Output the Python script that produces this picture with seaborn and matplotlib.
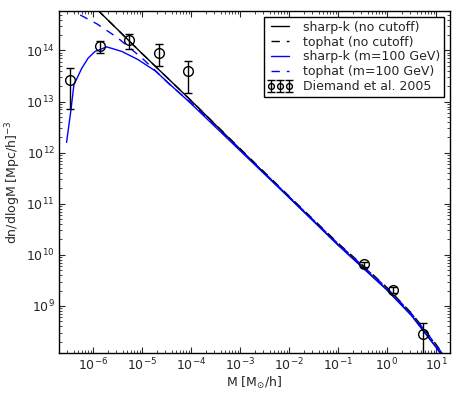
import numpy as np
import pandas as pd
import matplotlib
matplotlib.use("Agg")
import matplotlib.pyplot as plt
import seaborn as sns

# ---- data (log10 values) ----
logM_nocut = [-6.54, -6.0, -5.0, -4.0, -3.0, -2.0, -1.0, -0.5, 0.0, 0.5, 1.0, 1.3]
logN_sharp_nocut = [15.40, 14.88, 13.94, 13.02, 12.07, 11.13, 10.20, 9.76, 9.32, 8.82, 8.20, 7.80]
logN_tophat_nocut = [15.40, 14.88, 13.94, 13.02, 12.08, 11.15, 10.23, 9.80, 9.36, 8.86, 8.25, 7.85]

logM_sharp_cut = [-6.54, -6.45, -6.39, -6.23, -6.10, -5.96, -5.72, -5.41, -5.08, -4.73, -4.40,
                  -4.0, -3.5, -3.0, -2.0, -1.0, -0.5, 0.0, 0.5, 1.0, 1.3]
logN_sharp_cut = [12.20, 12.84, 13.33, 13.65, 13.85, 13.98, 14.07, 13.98, 13.82, 13.60, 13.31,
                  12.96, 12.50, 12.04, 11.12, 10.19, 9.75, 9.31, 8.81, 8.19, 7.79]

logM_tophat_cut = [-6.54, -6.37, -5.92, -5.5, -5.0, -4.7, -4.4, -4.0, -3.5, -3.0, -2.0,
                   -1.0, -0.5, 0.0, 0.5, 1.0, 1.3]
logN_tophat_cut = [14.83, 14.75, 14.52, 14.25, 13.85, 13.58, 13.30, 12.98, 12.52, 12.06, 11.14,
                   10.22, 9.79, 9.35, 8.85, 8.24, 7.84]

diemand_M = [3.4e-7, 1.37e-6, 5.5e-6, 2.2e-5, 8.7e-5, 0.34, 1.35, 5.5]
diemand_N = [2.6e13, 1.2e14, 1.57e14, 9.1e13, 3.9e13, 6.6e9, 2.05e9, 2.8e8]
diemand_err = [1.9e13, 3.0e13, 5.0e13, 4.2e13, 2.4e13, 0.8e9, 0.25e9, 1.9e8]

x_major = [1e-6, 1e-5, 1e-4, 1e-3, 1e-2, 1e-1, 1e0, 1e1]
y_major = [1e9, 1e10, 1e11, 1e12, 1e13, 1e14]

labels = ["sharp-k (no cutoff)", "tophat (no cutoff)", "sharp-k (m=100 GeV)",
          "tophat (m=100 GeV)", "Diemand et al. 2005"]

# ---- plotting ----
sns.set_style("ticks")
plt.rcParams["font.family"] = ["DejaVu Sans"]
plt.rcParams["font.size"] = 9
plt.rcParams["mathtext.default"] = "regular"
plt.rcParams["axes.unicode_minus"] = False

fig = plt.figure(figsize=(4.63, 3.96), dpi=100)
ax = fig.add_axes([0.1274, 0.1086, 0.8445, 0.8644])

def df(lm, ln):
    return pd.DataFrame({"M": np.power(10.0, lm), "N": np.power(10.0, ln)})

d1 = df(logM_nocut, logN_sharp_nocut)
d2 = df(logM_nocut, logN_tophat_nocut)
d3 = df(logM_sharp_cut, logN_sharp_cut)
d4 = df(logM_tophat_cut, logN_tophat_cut)

sns.lineplot(data=d1, x="M", y="N", ax=ax, color="k", lw=1.0, label=labels[0], sort=False)
sns.lineplot(data=d2, x="M", y="N", ax=ax, color="k", lw=1.0, label=labels[1], sort=False)
sns.lineplot(data=d3, x="M", y="N", ax=ax, color="#0000ff", lw=1.0, label=labels[2], sort=False)
sns.lineplot(data=d4, x="M", y="N", ax=ax, color="#0000ff", lw=1.0, label=labels[3], sort=False)
lines = ax.get_lines()
lines[1].set_dashes((6, 5))
lines[3].set_dashes((6, 5))

ax.errorbar(diemand_M, diemand_N, yerr=diemand_err, fmt="o", mfc="none", mec="k",
            ecolor="k", ms=7, mew=1.0, elinewidth=1.0, capsize=3, capthick=1.0,
            label=labels[4])

ax.set_xscale("log")
ax.set_yscale("log")
ax.set_xlim(2.02e-7, 19.3)
ax.set_ylim(1.2e8, 6.0e14)

ax.xaxis.set_major_locator(matplotlib.ticker.FixedLocator(x_major))
ax.yaxis.set_major_locator(matplotlib.ticker.FixedLocator(y_major))
ax.xaxis.set_major_formatter(matplotlib.ticker.LogFormatterMathtext())
ax.yaxis.set_major_formatter(matplotlib.ticker.LogFormatterMathtext())
ax.xaxis.set_minor_locator(matplotlib.ticker.LogLocator(base=10, subs=np.arange(2, 10), numticks=20))
ax.yaxis.set_minor_locator(matplotlib.ticker.LogLocator(base=10, subs=np.arange(2, 10), numticks=20))
ax.xaxis.set_minor_formatter(matplotlib.ticker.NullFormatter())
ax.yaxis.set_minor_formatter(matplotlib.ticker.NullFormatter())

ax.set_xlabel(r"M [M$_{\odot}$/h]", fontsize=9, labelpad=1)
ax.set_ylabel(r"dn/dlogM [Mpc/h]$^{-3}$", fontsize=9, labelpad=2)

ax.tick_params(which="both", direction="in", top=True, right=True, labelsize=9)
ax.tick_params(which="major", length=4, width=0.8, pad=3)
ax.tick_params(which="minor", length=2, width=0.6)
for s in ax.spines.values():
    s.set_linewidth(1.0)
    s.set_color("k")

leg = ax.legend(loc="upper right", fontsize=9, frameon=True, fancybox=False,
                edgecolor="k", framealpha=1.0, numpoints=3, handlelength=2.0,
                labelspacing=0.15, borderpad=0.3, handletextpad=0.8, borderaxespad=0.5,
                markerscale=0.6)
leg.get_frame().set_linewidth(1.0)

fig.savefig("out.png", dpi=100)
